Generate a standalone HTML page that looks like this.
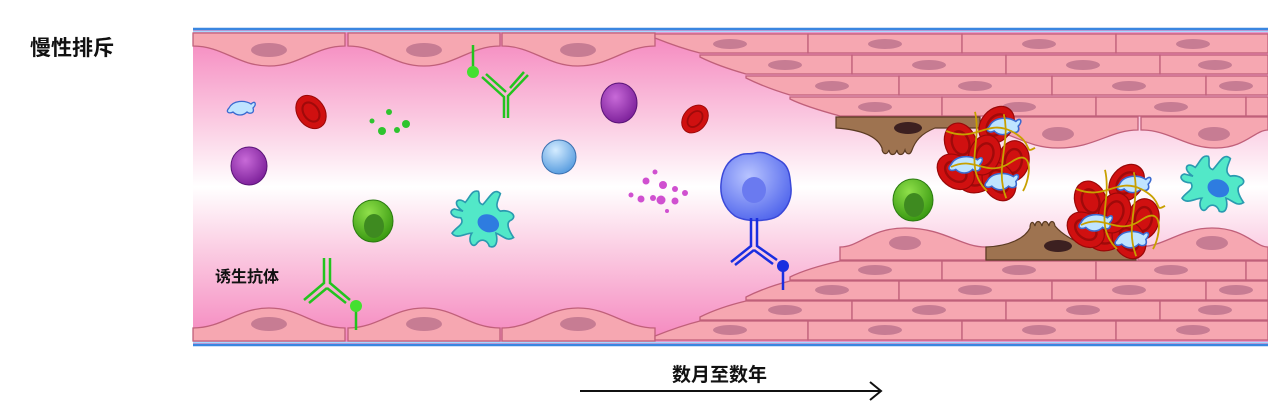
<!DOCTYPE html>
<html><head><meta charset="utf-8"><style>
html,body{margin:0;padding:0;background:#fff;}
svg{display:block;}
.c{fill:#f6a7b1;stroke:#c0607a;stroke-width:1.3;}
.n{fill:#c77c93;}
.t{font-family:"Liberation Sans","Noto Sans CJK SC",sans-serif;fill:#111;font-weight:700;}
</style></head><body>
<svg width="1268" height="408" viewBox="0 0 1268 408" xmlns="http://www.w3.org/2000/svg">
<defs>
<linearGradient id="lum" x1="0" y1="0" x2="0" y2="1">
<stop offset="0" stop-color="#f585bd"/><stop offset="0.3" stop-color="#fbcde3"/>
<stop offset="0.5" stop-color="#ffffff"/><stop offset="0.7" stop-color="#fbcde3"/>
<stop offset="1" stop-color="#f585bd"/></linearGradient>
<radialGradient id="pur" cx="0.4" cy="0.35" r="0.7"><stop offset="0" stop-color="#c86ad8"/><stop offset="1" stop-color="#7a1e98"/></radialGradient>
<radialGradient id="grn" cx="0.4" cy="0.3" r="0.7"><stop offset="0" stop-color="#8fe04a"/><stop offset="1" stop-color="#3a9a12"/></radialGradient>
<radialGradient id="blu" cx="0.4" cy="0.3" r="0.7"><stop offset="0" stop-color="#d4ecff"/><stop offset="1" stop-color="#5a9ee0"/></radialGradient>
<radialGradient id="mac" cx="0.4" cy="0.35" r="0.7"><stop offset="0" stop-color="#b8c4ff"/><stop offset="1" stop-color="#5065ec"/></radialGradient>
<g id="rbc"><ellipse cx="0" cy="0" rx="13" ry="17" fill="#d01010" stroke="#9a0808" stroke-width="1"/><ellipse cx="0" cy="0" rx="7" ry="10" fill="none" stroke="#a00a0a" stroke-width="2"/></g>
<g id="dc"><path d="M-20,-8 C-30,-14 -26,-22 -18,-16 C-14,-20 -12,-28 -6,-26 C-4,-22 -8,-16 -2,-14 C4,-20 8,-30 14,-24 C12,-18 8,-12 14,-8 C22,-10 30,-4 24,0 C18,2 22,10 26,16 C20,20 16,14 10,12 C12,20 10,26 4,24 C2,18 -4,16 -8,22 C-12,26 -16,18 -12,12 C-18,12 -26,18 -30,12 C-26,6 -18,4 -22,-2 C-30,-2 -34,-8 -28,-10 Z" fill="#52e8c8" stroke="#2a9ab0" stroke-width="1.5"/><ellipse cx="3" cy="3" rx="10" ry="8" fill="#2e7ce0" transform="rotate(20 3 3)"/></g>
<g id="plt"><path d="M-12,0 C-8,-8 4,-8 10,-4 C14,-8 16,-4 12,0 C14,6 8,6 6,4 C2,8 -4,8 -8,4 C-12,6 -16,4 -12,0 Z" fill="#bfe4ff" stroke="#3a6ad0" stroke-width="1.3"/></g>
<g id="clot">
<use href="#rbc" transform="translate(-22,-10) rotate(-20)"/>
<use href="#rbc" transform="translate(8,-25) rotate(40)"/>
<use href="#rbc" transform="translate(22,5) rotate(10)"/>
<use href="#rbc" transform="translate(-8,18) rotate(70)"/>
<use href="#rbc" transform="translate(10,22) rotate(-30)"/>
<use href="#rbc" transform="translate(-2,0) rotate(20)"/>
<use href="#rbc" transform="translate(-26,14) rotate(-50)"/>
<use href="#plt" transform="translate(-18,8)"/><use href="#plt" transform="translate(14,-24)"/><use href="#plt" transform="translate(12,22)"/>
<path d="M-34,-20 C-10,-10 0,-30 20,-20 S30,0 40,-6 M-30,10 C-10,0 0,20 20,6 S36,20 30,30 M-10,-36 C-4,-10 -20,10 0,30 M14,-34 C20,-10 6,10 16,36" fill="none" stroke="#c8a000" stroke-width="1.5"/>
</g>
</defs>

<text class="t" x="30" y="55" font-size="21">慢性排斥</text>

<rect x="193" y="30" width="1075" height="314" fill="url(#lum)"/>
<line x1="193" y1="29" x2="1268" y2="29" stroke="#3a86e0" stroke-width="2.5"/>
<line x1="193" y1="31.5" x2="1268" y2="31.5" stroke="#a8d8ff" stroke-width="1.5"/>
<line x1="193" y1="345" x2="1268" y2="345" stroke="#3a86e0" stroke-width="2.5"/>
<line x1="193" y1="342.5" x2="1268" y2="342.5" stroke="#a8d8ff" stroke-width="1.5"/>

<g>
<path class="c" d="M193,33 H345 V46 C315,46 300,66 269,66 C238,66 223,46 193,46 Z"/><ellipse class="n" cx="269" cy="50" rx="18" ry="7"/>
<path class="c" d="M348,33 H500 V46 C470,46 455,66 424,66 C393,66 378,46 348,46 Z"/><ellipse class="n" cx="424" cy="50" rx="18" ry="7"/>
<path class="c" d="M502,33 H655 V46 C625,46 610,66 578,66 C547,66 532,46 502,46 Z"/><ellipse class="n" cx="578" cy="50" rx="18" ry="7"/>
</g>
<g>
<path class="c" d="M193,341 H345 V328 C315,328 300,308 269,308 C238,308 223,328 193,328 Z"/><ellipse class="n" cx="269" cy="324" rx="18" ry="7"/>
<path class="c" d="M348,341 H500 V328 C470,328 455,308 424,308 C393,308 378,328 348,328 Z"/><ellipse class="n" cx="424" cy="324" rx="18" ry="7"/>
<path class="c" d="M502,341 H655 V328 C625,328 610,308 578,308 C547,308 532,328 502,328 Z"/><ellipse class="n" cx="578" cy="324" rx="18" ry="7"/>
</g>

<g>
<path class="c" d="M655,34 H808 V53 H700 C680,48 665,42 655,38 Z"/><rect class="c" x="808" y="34" width="154" height="19"/><rect class="c" x="962" y="34" width="154" height="19"/><rect class="c" x="1116" y="34" width="152" height="19"/>
<ellipse class="n" cx="730" cy="44" rx="17" ry="5"/><ellipse class="n" cx="885" cy="44" rx="17" ry="5"/><ellipse class="n" cx="1039" cy="44" rx="17" ry="5"/><ellipse class="n" cx="1193" cy="44" rx="17" ry="5"/>
<path class="c" d="M700,55 H852 V74 H746 C725,68 710,62 700,57 Z"/><rect class="c" x="852" y="55" width="154" height="19"/><rect class="c" x="1006" y="55" width="154" height="19"/><rect class="c" x="1160" y="55" width="108" height="19"/>
<ellipse class="n" cx="785" cy="65" rx="17" ry="5"/><ellipse class="n" cx="929" cy="65" rx="17" ry="5"/><ellipse class="n" cx="1083" cy="65" rx="17" ry="5"/><ellipse class="n" cx="1215" cy="65" rx="17" ry="5"/>
<path class="c" d="M746,76 H899 V95 H790 C770,89 756,83 746,78 Z"/><rect class="c" x="899" y="76" width="153" height="19"/><rect class="c" x="1052" y="76" width="154" height="19"/><rect class="c" x="1206" y="76" width="62" height="19"/>
<ellipse class="n" cx="832" cy="86" rx="17" ry="5"/><ellipse class="n" cx="975" cy="86" rx="17" ry="5"/><ellipse class="n" cx="1129" cy="86" rx="17" ry="5"/><ellipse class="n" cx="1236" cy="86" rx="17" ry="5"/>
<path class="c" d="M790,97 H942 V116 H840 C818,110 800,104 790,99 Z"/><rect class="c" x="942" y="97" width="154" height="19"/><rect class="c" x="1096" y="97" width="150" height="19"/><rect class="c" x="1246" y="97" width="22" height="19"/>
<ellipse class="n" cx="875" cy="107" rx="17" ry="5"/><ellipse class="n" cx="1019" cy="107" rx="17" ry="5"/><ellipse class="n" cx="1171" cy="107" rx="17" ry="5"/>
<path class="c" d="M985,117 H1138 V130 C1110,130 1095,148 1058,148 C1025,148 1010,130 985,130 Z"/><ellipse class="n" cx="1058" cy="134" rx="16" ry="7"/>
<path class="c" d="M1141,117 H1268 V130 C1255,130 1245,148 1216,148 C1185,148 1170,130 1141,130 Z"/><ellipse class="n" cx="1214" cy="134" rx="16" ry="7"/>
<path d="M836,117 H980 V128 H935 C920,134 915,142 912,150 C910,156 906,154 905,150 C903,156 898,156 897,150 C895,156 890,156 889,150 C887,156 882,154 882,148 C878,138 865,130 836,128 Z" fill="#9e7350" stroke="#5a3a22" stroke-width="1.2"/>
<ellipse cx="908" cy="128" rx="14" ry="6" fill="#3c2020"/>
</g>

<g>
<path class="c" d="M655,340 H808 V321 H700 C680,326 665,332 655,336 Z"/><rect class="c" x="808" y="321" width="154" height="19"/><rect class="c" x="962" y="321" width="154" height="19"/><rect class="c" x="1116" y="321" width="152" height="19"/>
<ellipse class="n" cx="730" cy="330" rx="17" ry="5"/><ellipse class="n" cx="885" cy="330" rx="17" ry="5"/><ellipse class="n" cx="1039" cy="330" rx="17" ry="5"/><ellipse class="n" cx="1193" cy="330" rx="17" ry="5"/>
<path class="c" d="M700,320 H852 V301 H746 C725,306 710,312 700,317 Z"/><rect class="c" x="852" y="301" width="154" height="19"/><rect class="c" x="1006" y="301" width="154" height="19"/><rect class="c" x="1160" y="301" width="108" height="19"/>
<ellipse class="n" cx="785" cy="310" rx="17" ry="5"/><ellipse class="n" cx="929" cy="310" rx="17" ry="5"/><ellipse class="n" cx="1083" cy="310" rx="17" ry="5"/><ellipse class="n" cx="1215" cy="310" rx="17" ry="5"/>
<path class="c" d="M746,300 H899 V281 H790 C770,286 756,292 746,297 Z"/><rect class="c" x="899" y="281" width="153" height="19"/><rect class="c" x="1052" y="281" width="154" height="19"/><rect class="c" x="1206" y="281" width="62" height="19"/>
<ellipse class="n" cx="832" cy="290" rx="17" ry="5"/><ellipse class="n" cx="975" cy="290" rx="17" ry="5"/><ellipse class="n" cx="1129" cy="290" rx="17" ry="5"/><ellipse class="n" cx="1236" cy="290" rx="17" ry="5"/>
<path class="c" d="M790,280 H942 V261 H840 C818,266 800,272 790,277 Z"/><rect class="c" x="942" y="261" width="154" height="19"/><rect class="c" x="1096" y="261" width="150" height="19"/><rect class="c" x="1246" y="261" width="22" height="19"/>
<ellipse class="n" cx="875" cy="270" rx="17" ry="5"/><ellipse class="n" cx="1019" cy="270" rx="17" ry="5"/><ellipse class="n" cx="1171" cy="270" rx="17" ry="5"/>
<path class="c" d="M840,260 H986 V247 C960,247 945,228 905,228 C870,228 860,247 840,247 Z"/><ellipse class="n" cx="905" cy="243" rx="16" ry="7"/>
<path class="c" d="M1138,260 H1268 V247 C1255,247 1245,228 1212,228 C1180,228 1165,247 1138,247 Z"/><ellipse class="n" cx="1212" cy="243" rx="16" ry="7"/>
<path d="M986,260 H1136 V247 H1090 C1070,240 1060,232 1055,226 C1054,220 1050,220 1049,226 C1047,220 1043,220 1042,226 C1040,220 1036,220 1035,226 C1033,220 1030,222 1030,228 C1025,238 1010,246 986,247 Z" fill="#9e7350" stroke="#5a3a22" stroke-width="1.2"/>
<ellipse cx="1058" cy="246" rx="14" ry="6" fill="#3c2020"/>
</g>

<use href="#plt" transform="translate(241,108)"/>
<use href="#rbc" transform="translate(311,112) rotate(-35) scale(1.05)"/>
<use href="#rbc" transform="translate(695,119) rotate(40) scale(0.9)"/>
<g fill="#2ec42e"><circle cx="372" cy="121" r="2.5"/><circle cx="389" cy="112" r="3"/><circle cx="382" cy="131" r="4"/><circle cx="397" cy="130" r="3"/><circle cx="406" cy="124" r="4"/></g>
<ellipse cx="619" cy="103" rx="18" ry="20" fill="url(#pur)" stroke="#5a1478"/>
<ellipse cx="249" cy="166" rx="18" ry="19" fill="url(#pur)" stroke="#5a1478"/>
<ellipse cx="559" cy="157" rx="17" ry="17" fill="url(#blu)" stroke="#3a70b0"/>
<g fill="#d050d0"><circle cx="655" cy="172" r="2.5"/><circle cx="646" cy="181" r="3.5"/><circle cx="663" cy="185" r="4"/><circle cx="631" cy="195" r="2.5"/><circle cx="641" cy="199" r="3.5"/><circle cx="653" cy="198" r="3"/><circle cx="661" cy="200" r="4.5"/><circle cx="675" cy="189" r="3"/><circle cx="675" cy="201" r="3.5"/><circle cx="667" cy="211" r="2"/><circle cx="685" cy="193" r="3"/></g>
<ellipse cx="373" cy="221" rx="20" ry="21" fill="url(#grn)" stroke="#2a7a10"/><ellipse cx="374" cy="226" rx="10" ry="12" fill="#3e8a20"/>
<ellipse cx="913" cy="200" rx="20" ry="21" fill="url(#grn)" stroke="#2a7a10"/><ellipse cx="914" cy="205" rx="10" ry="12" fill="#3e8a20"/>
<use href="#dc" transform="translate(485,220) scale(1.1)"/>
<use href="#dc" transform="translate(1215,185) scale(1.1)"/>
<use href="#clot" transform="translate(987,155) scale(1.2)"/>
<use href="#clot" transform="translate(1117,213) scale(1.2)"/>
<path d="M755,153 C765,150 775,158 782,162 C790,168 790,178 791,188 C792,200 786,210 778,216 C768,222 745,222 735,216 C724,208 720,196 721,184 C722,170 728,160 738,156 C745,152 750,155 755,153 Z" fill="url(#mac)" stroke="#3a48d8" stroke-width="1.5"/>
<ellipse cx="754" cy="190" rx="12" ry="13" fill="#6a7af0"/>
<g fill="none" stroke-width="2.5">
<path d="M751,218 V246 L731,262 M757,218 V246 L777,260 M754,250 L735,265 M754,250 L773,264" stroke="#1a2ee0"/>
<path d="M473,45 V68 M482,77 L504,97 V118 M528,75 L508,96 V118 M486,74 L506,92 M524,72 L510,88" stroke="#22c41e"/>
<path d="M324,258 V283 L304,300 M330,258 V283 L350,300 M327,288 L309,303 M327,288 L346,303 M356,308 V330" stroke="#22c41e"/>
<path d="M783,268 V290" stroke="#1a2ee0"/>
</g>
<circle cx="473" cy="72" r="6" fill="#44e030"/>
<circle cx="356" cy="306" r="6" fill="#44e030"/>
<circle cx="783" cy="266" r="6" fill="#1a2ee0"/>

<text class="t" x="215" y="282" font-size="16">诱生抗体</text>

<text class="t" x="672" y="381" font-size="19">数月至数年</text>
<line x1="580" y1="391" x2="881" y2="391" stroke="#111" stroke-width="2"/>
<path d="M870,382 L881,391 L870,400" fill="none" stroke="#111" stroke-width="2"/>
</svg>
</body></html>
